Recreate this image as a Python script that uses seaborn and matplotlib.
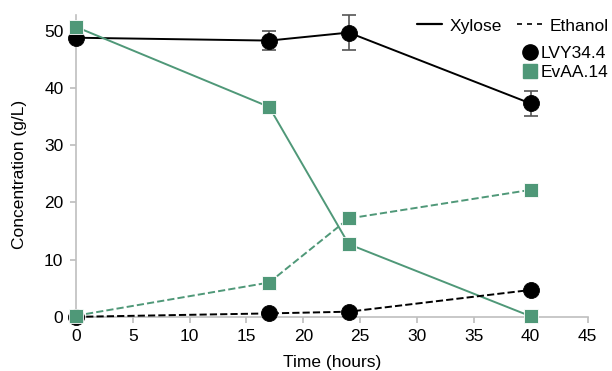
import numpy as np
import pandas as pd
import seaborn as sns
from matplotlib import pyplot as plt
from matplotlib.lines import Line2D

hours = [0, 17, 24, 40]
xylose_lvy = [48.8, 48.3, 49.7, 37.3]
xylose_lvy_err = [0.0, 1.7, 3.0, 2.2]
xylose_evaa = [50.7, 36.7, 12.7, 0.1]
ethanol_lvy = [0.0, 0.6, 0.9, 4.7]
ethanol_evaa = [0.2, 6.0, 17.2, 22.2]

black = "black"
green = "#4f9878"

sns.set_theme(style="white")
plt.rcParams["font.family"] = ["Liberation Sans", "DejaVu Sans"]
plt.rcParams["text.color"] = "black"
plt.rcParams["axes.labelcolor"] = "black"
plt.rcParams["xtick.color"] = "black"
plt.rcParams["ytick.color"] = "black"

fig = plt.figure(figsize=(6.12, 3.71), dpi=100)
ax = fig.add_axes([0.124, 0.146, 0.836, 0.814])

series = [
    (xylose_lvy, black, "o", "-", 11.5),
    (xylose_evaa, green, "s", "-", 10.5),
    (ethanol_lvy, black, "o", "--", 11.5),
    (ethanol_evaa, green, "s", "--", 10.5),
]
for vals, col, mk, ls, ms in series:
    df = pd.DataFrame({"hours": hours, "conc": vals})
    kw = {"dashes": (4, 2.8)} if ls == "--" else {}
    sns.lineplot(data=df, x="hours", y="conc", color=col, marker=mk,
                 linestyle=ls, markersize=ms, markeredgecolor="white" if mk == "s" else col,
                 markeredgewidth=0.6, linewidth=1.4, ax=ax, clip_on=False, zorder=3, **kw)

ax.errorbar(hours, xylose_lvy, yerr=xylose_lvy_err, fmt="none", ecolor="#555555",
            elinewidth=1.2, capsize=5, capthick=1.2, zorder=2, clip_on=False)

ax.set_xlim(0, 45)
ax.set_ylim(0, 52.8)
ax.set_xticks(range(0, 50, 5))
ax.set_yticks(range(0, 60, 10))
ax.set_xlabel("Time (hours)", fontsize=12.5, labelpad=8)
ax.set_ylabel("Concentration (g/L)", fontsize=12.5)
ax.yaxis.set_label_coords(-0.095, 0.47)
ax.tick_params(labelsize=12.5, length=4, color="#bfbfbf", direction="out",
               left=True, bottom=True, pad=5)
for s in ["top", "right"]:
    ax.spines[s].set_visible(False)
for s in ["left", "bottom"]:
    ax.spines[s].set_color("#bfbfbf")
    ax.spines[s].set_linewidth(1.2)

h1 = [Line2D([], [], color=black, linestyle="-", linewidth=1.6),
      Line2D([], [], color=black, linestyle=(0, (3, 3)), linewidth=1.2)]
leg1 = ax.legend(h1, ["Xylose", "Ethanol"], ncol=2, frameon=False, fontsize=12.5,
                 loc="upper right", bbox_to_anchor=(1.072, 1.04), handlelength=1.45,
                 columnspacing=0.85, handletextpad=0.45)
ax.add_artist(leg1)
h2 = [Line2D([], [], color=black, marker="o", linestyle="none", markersize=11),
      Line2D([], [], color=green, marker="s", linestyle="none", markersize=10)]
ax.legend(h2, ["LVY34.4", "EvAA.14"], frameon=False, fontsize=12.5,
          loc="upper right", bbox_to_anchor=(1.072, 0.95), handlelength=0.9,
          handletextpad=0.2, labelspacing=0.25)

fig.savefig("out.png", dpi=100)
